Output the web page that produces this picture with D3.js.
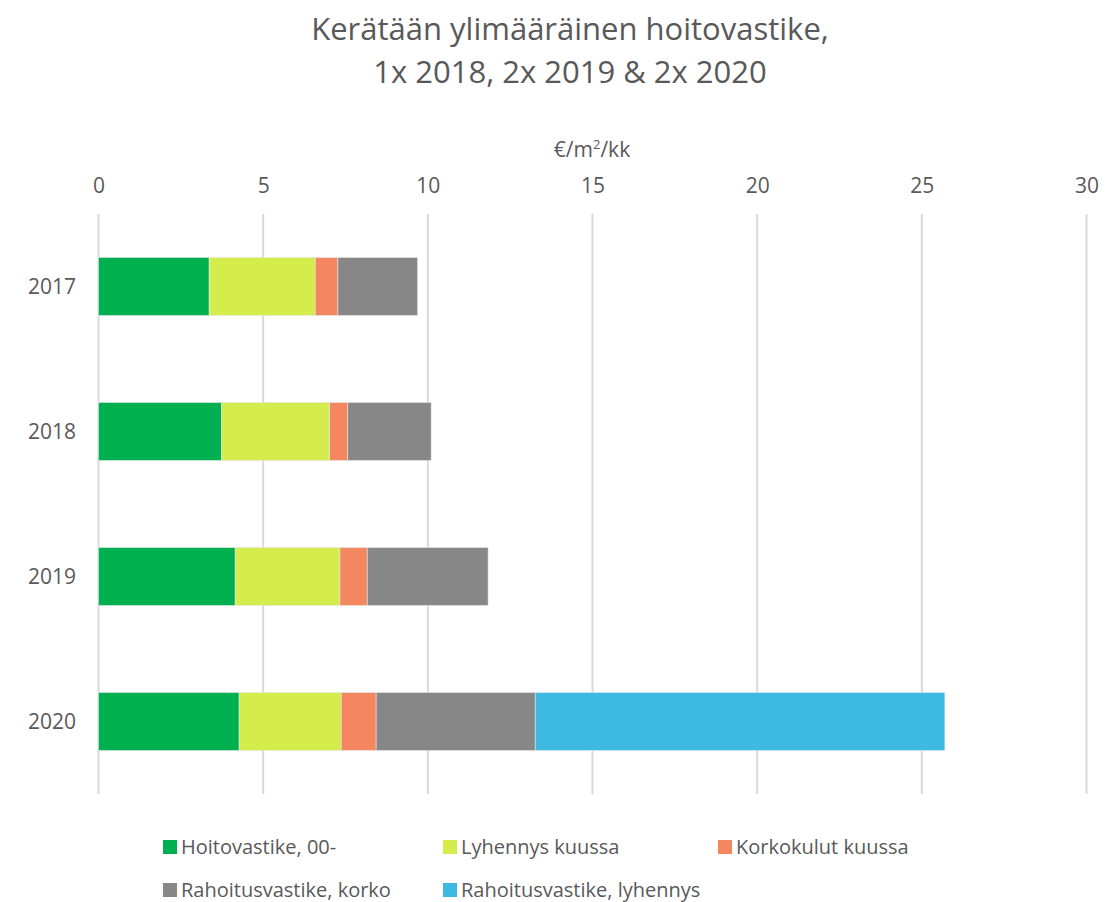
<!DOCTYPE html>
<html><head><meta charset="utf-8">
<script src="https://cdn.jsdelivr.net/npm/d3@7"></script>
<style>body{margin:0;background:#fff;} svg{display:block;font-family:"Open Sans",sans-serif;}</style>
</head><body>
<svg id="c" width="1120" height="902"></svg>
<script>
const years = ["2017","2018","2019","2020"];
const seriesNames = ["Hoitovastike, 00-","Lyhennys kuussa","Korkokulut kuussa","Rahoitusvastike, korko","Rahoitusvastike, lyhennys"];
const hoitovastike = [3.36, 3.74, 4.15, 4.27];
const lyhennys = [3.22, 3.28, 3.18, 3.10];
const korkokulut = [0.69, 0.55, 0.83, 1.06];
const rahKorko = [2.42, 2.53, 3.67, 4.83];
const rahLyhennys = [0, 0, 0, 12.44];
const xTicks = [0,5,10,15,20,25,30];
const colors = ["#00B050","#D4EC4C","#F4875F","#878787","#3DB9E2"];

const seriesVals = [hoitovastike, lyhennys, korkokulut, rahKorko, rahLyhennys];
const rows = years.map((y,i)=>{const o={year:y}; seriesNames.forEach((s,j)=>o[s]=seriesVals[j][i]); return o;});
const stack = d3.stack().keys(seriesNames)(rows);

const svg = d3.select("#c");
const x = d3.scaleLinear().domain([0,30]).range([98.5,1086.5]);
const y = d3.scaleBand().domain(years).range([214,794]).paddingInner(0.6).paddingOuter(0.3);
const txt = "#595959";

// title
svg.append("text").attr("x",570).attr("y",40).attr("text-anchor","middle").attr("fill",txt)
  .attr("font-size",31).text("Kerätään ylimääräinen hoitovastike,");
svg.append("text").attr("x",570).attr("y",83).attr("text-anchor","middle").attr("fill",txt)
  .attr("font-size",31).text("1x 2018, 2x 2019 & 2x 2020");

// axis title
const at = svg.append("text").attr("x",592).attr("y",157).attr("text-anchor","middle").attr("fill",txt).attr("font-size",21);
at.append("tspan").text("€/m");
at.append("tspan").attr("font-size",13).attr("dy",-8).text("2");
at.append("tspan").attr("dy",8).text("/kk");

// gridlines
svg.append("g").selectAll("line").data(xTicks).join("line")
  .attr("x1",d=>x(d)).attr("x2",d=>x(d)).attr("y1",214).attr("y2",794)
  .attr("stroke","#d9d9d9").attr("stroke-width",2);

// top axis
const ax = svg.append("g").attr("transform","translate(0,193)")
  .call(d3.axisTop(x).tickValues(xTicks).tickSize(0).tickPadding(0));
ax.select(".domain").remove();
ax.selectAll("text").attr("fill",txt).attr("font-size",21).attr("font-family","Open Sans").attr("dy",0);

// left axis
const ay = svg.append("g").attr("transform","translate(76,0)")
  .call(d3.axisLeft(y).tickSize(0).tickPadding(0));
ay.select(".domain").remove();
ay.selectAll("text").attr("fill",txt).attr("font-size",21).attr("font-family","Open Sans").attr("dy","0.35em");

// bars
svg.append("g").selectAll("g").data(stack).join("g").attr("fill",(d,i)=>colors[i])
  .selectAll("rect").data(d=>d).join("rect")
  .attr("x",d=>x(d[0])).attr("width",d=>Math.max(0,x(d[1])-x(d[0])))
  .attr("y",d=>y(d.data.year)).attr("height",y.bandwidth())
  .attr("stroke",d=>(d[1]-d[0])>0?"#e8e8e8":"none").attr("stroke-width",0.6);

// legend
const legPos = [[163,847],[443,847],[718,847],[163,890],[443,890]];
const lg = svg.append("g").selectAll("g").data(seriesNames).join("g")
  .attr("transform",(d,i)=>`translate(${legPos[i][0]},${legPos[i][1]})`);
lg.append("rect").attr("x",0).attr("y",-7).attr("width",14).attr("height",14).attr("fill",(d,i)=>colors[i]);
lg.append("text").attr("x",18).attr("y",0).attr("dy","0.35em").attr("fill",txt).attr("font-size",20).text(d=>d);
</script>
</body></html>
